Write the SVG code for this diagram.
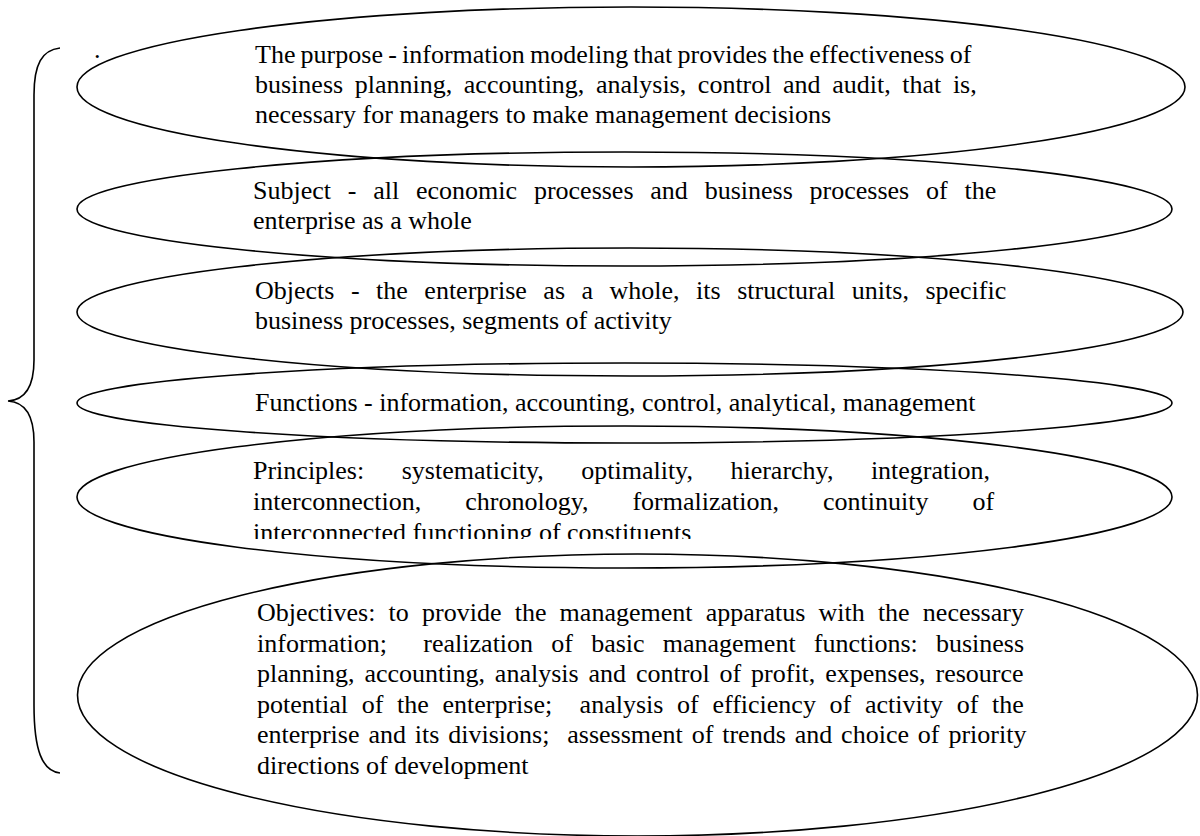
<svg xmlns="http://www.w3.org/2000/svg" width="1200" height="836" viewBox="0 0 1200 836">
<style>
.e{fill:none;stroke:#000;stroke-width:1.6}
.t{font-family:"Liberation Serif","Times New Roman",serif;font-size:26px;fill:#000}
.b{fill:none;stroke:#000;stroke-width:1.6}
</style>
<defs>
<clipPath id="clipP"><rect x="240" y="440" width="800" height="99"/></clipPath>
</defs>
<rect width="1200" height="836" fill="#fff"/>
<g id="brace">
<path class="b" d="M60,48 C42,50 34,64 34,95 L34,360 C34,388 24,400 8,401 C24,402 34,414 34,442 L34,705 C34,750 42,771 60,773"/>
<text class="t" x="94" y="58">.</text>
</g>
<g id="connectors"></g>
<g id="purpose">
<ellipse class="e" cx="631" cy="87" rx="554" ry="80"/>
<text class="t" xml:space="preserve"><tspan x="255" y="63" word-spacing="-1.3">The purpose - information modeling that provides the effectiveness of</tspan><tspan x="255" y="93" word-spacing="5.1">business planning, accounting, analysis, control and audit, that is,</tspan><tspan x="255" y="123">necessary for managers to make management decisions</tspan></text>
</g>
<g id="subject">
<ellipse class="e" cx="624.5" cy="209" rx="547.5" ry="57"/>
<text class="t" xml:space="preserve"><tspan x="253" y="199" word-spacing="10.3">Subject - all economic processes and business processes of the</tspan><tspan x="253" y="229">enterprise as a whole</tspan></text>
</g>
<g id="objects">
<ellipse class="e" cx="630" cy="312" rx="553" ry="64"/>
<text class="t" xml:space="preserve"><tspan x="255" y="299" word-spacing="10">Objects - the enterprise as a whole, its structural units, specific</tspan><tspan x="255" y="329">business processes, segments of activity</tspan></text>
</g>
<g id="functions">
<ellipse class="e" cx="624.5" cy="403" rx="547.5" ry="40"/>
<text class="t" x="255" y="411">Functions - information, accounting, control, analytical, management</text>
</g>
<g id="principles">
<ellipse class="e" cx="624.5" cy="497" rx="547.5" ry="71"/>
<text class="t" xml:space="preserve" clip-path="url(#clipP)"><tspan x="253" y="479" word-spacing="31">Principles: systematicity, optimality, hierarchy, integration,</tspan><tspan x="253" y="510" word-spacing="37.5">interconnection, chronology, formalization, continuity of</tspan><tspan x="253" y="541">interconnected functioning of constituents</tspan></text>
</g>
<g id="objectives">
<ellipse class="e" cx="637.5" cy="695" rx="560" ry="141"/>
<text class="t" xml:space="preserve"><tspan x="257" y="621" word-spacing="6.7">Objectives: to provide the management apparatus with the necessary</tspan><tspan x="257" y="651.5" word-spacing="11.7">information;  realization of basic management functions: business</tspan><tspan x="257" y="682" word-spacing="3.4">planning, accounting, analysis and control of profit, expenses, resource</tspan><tspan x="257" y="712.5" word-spacing="7.2">potential of the enterprise;  analysis of efficiency of activity of the</tspan><tspan x="257" y="743" word-spacing="2.4">enterprise and its divisions;  assessment of trends and choice of priority</tspan><tspan x="257" y="773.5">directions of development</tspan></text>
</g>
</svg>
